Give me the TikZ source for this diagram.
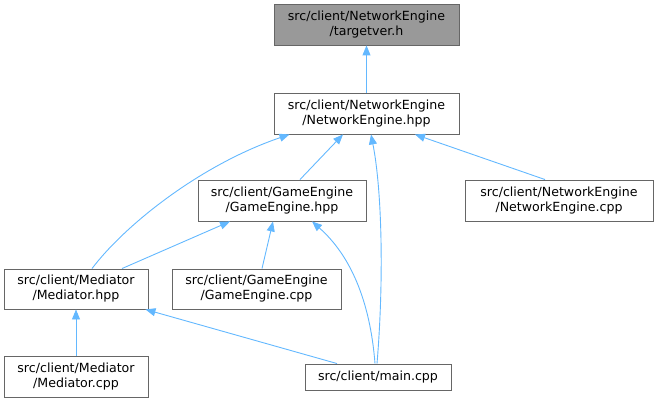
\documentclass[tikz,border=0pt]{standalone}
\usepackage{fontspec}
\setmainfont{DejaVu Sans}
\usetikzlibrary{arrows.meta}
\definecolor{edgeblue}{HTML}{63B8FF}
\definecolor{boxline}{HTML}{666666}
\definecolor{boxfill}{HTML}{999999}
\begin{document}
\begin{tikzpicture}[x=1pt,y=-1pt,
  file/.style={draw=boxline, line width=0.9pt, fill=white, align=center, inner sep=0pt,
    font=\fontsize{12.6}{15}\selectfont, minimum height=41pt},
  edge/.style={draw=edgeblue, line width=0.9pt, -{Triangle[length=10pt,width=8pt]}}]
\useasboundingbox (0,0) rectangle (655,403);
\node[file, fill=boxfill, minimum width=185pt] (tv) at (366.5,24.5) {src/client/NetworkEngine\\/targetver.h};
\node[file, minimum width=185pt] (neh) at (366.5,113.5) {src/client/NetworkEngine\\/NetworkEngine.hpp};
\node[file, minimum width=168pt] (geh) at (282,200.5) {src/client/GameEngine\\/GameEngine.hpp};
\node[file, minimum width=188pt] (nec) at (559,200.5) {src/client/NetworkEngine\\/NetworkEngine.cpp};
\node[file, minimum width=144pt, minimum height=40pt] (mdh) at (76,289) {src/client/Mediator\\/Mediator.hpp};
\node[file, minimum width=169pt, minimum height=40pt] (gec) at (256.5,289) {src/client/GameEngine\\/GameEngine.cpp};
\node[file, minimum width=144pt] (mdc) at (76,376.5) {src/client/Mediator\\/Mediator.cpp};
\node[file, minimum width=146pt, minimum height=26pt] (mn) at (378,377) {src/client/main.cpp};
\draw[edge] (neh.north) -- (tv.south);
\draw[edge] ([xshift=18pt]geh.north) -- ([xshift=-23.5pt]neh.south);
\draw[edge] ([xshift=16pt]mdh.north) .. controls (125,225) and (200,165) .. ([xshift=-77pt]neh.south);
\draw[edge] ([xshift=-1pt]mn.north) .. controls (384,280) and (382,190) .. ([xshift=4.5pt]neh.south);
\draw[edge] ([xshift=-14pt]nec.north) -- ([xshift=48.5pt]neh.south);
\draw[edge] ([xshift=46pt]mdh.north) -- ([xshift=-52pt]geh.south);
\draw[edge] ([xshift=5.5pt]gec.north) -- ([xshift=-9pt]geh.south);
\draw[edge] ([xshift=-3pt]mn.north) .. controls (370,300) and (350,255) .. ([xshift=30pt]geh.south);
\draw[edge] (mdc.north) -- (mdh.south);
\draw[edge] ([xshift=-41pt]mn.north) -- ([xshift=-3pt]mdh.south east);
\end{tikzpicture}
\end{document}
